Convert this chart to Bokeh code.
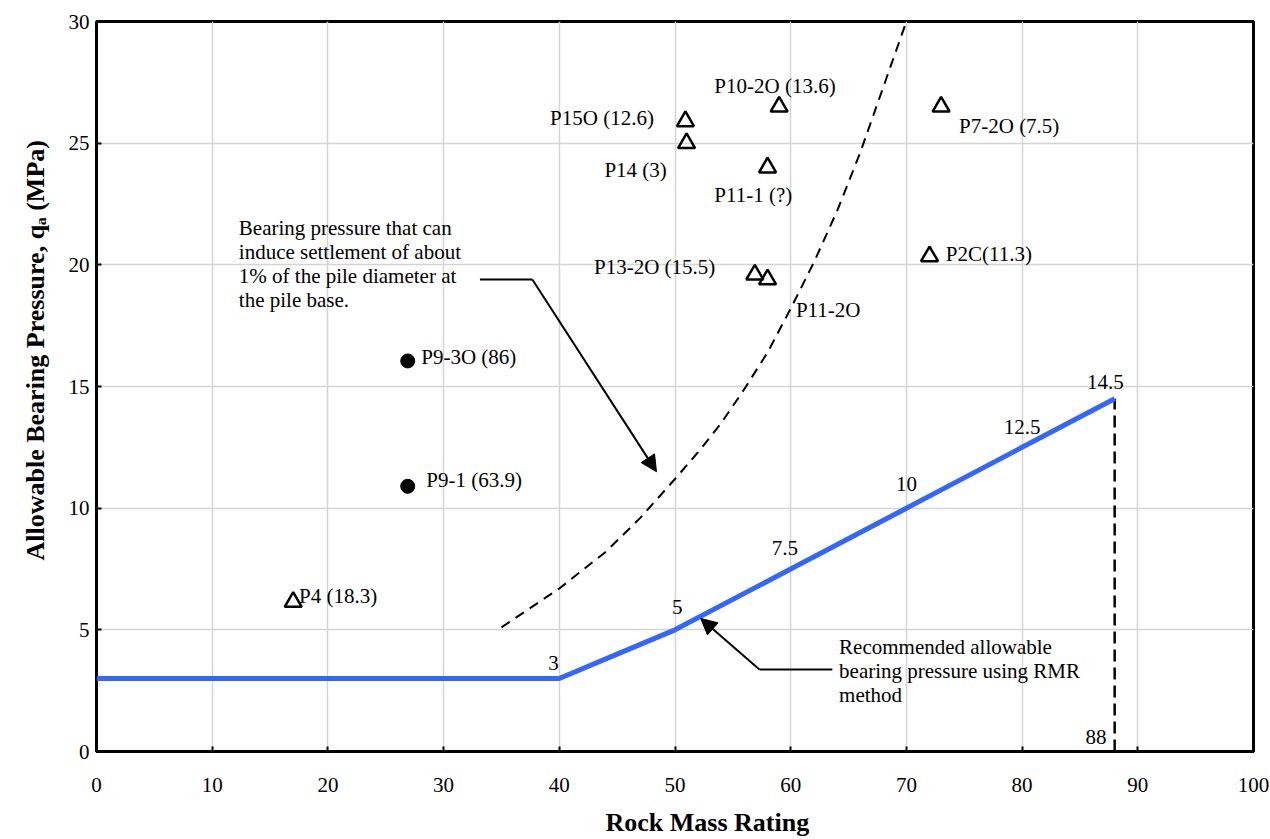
from bokeh.plotting import figure
from bokeh.models import Range1d, Title, Arrow, NormalHead
from bokeh.core.properties import value
from bokeh.embed import file_html
from bokeh.resources import INLINE

FONT = "Liberation Serif"

# ---- data ----
x_ticks = [0, 10, 20, 30, 40, 50, 60, 70, 80, 90, 100]
y_ticks = [0, 5, 10, 15, 20, 25, 30]

# recommended allowable bearing pressure (RMR method)
rec_rmr = [0, 40, 45, 50, 60, 70, 80, 88]
rec_qa = [3, 3, 4.0, 5, 7.5, 10, 12.5, 14.5]
rec_label_text = ["3", "5", "7.5", "10", "12.5", "14.5"]
rec_label_rmr = [39.5, 50.2, 59.5, 70.0, 80.0, 87.2]
rec_label_qa = [3.65, 5.95, 8.35, 11.0, 13.35, 15.2]

# vertical limit at RMR = 88
limit_rmr = [88, 88]
limit_qa = [0, 14.5]
limit_label = ["88"]
limit_label_rmr = [87.3]
limit_label_qa = [0.6]

# settlement curve (1% of pile diameter)
settle_rmr = [35, 40, 44, 47, 50, 52, 54, 56, 58, 60, 62, 64, 66, 68, 70]
settle_qa = [5.1, 6.7, 8.2, 9.6, 11.2, 12.3, 13.5, 14.9, 16.4, 18.2, 20.1, 22.2, 24.6, 27.3, 30.0]

# load test results: open triangles
tri_rmr = [17.0, 50.9, 51.0, 59.0, 58.0, 56.9, 58.0, 73.0, 72.0]
tri_qa = [6.15, 25.9, 25.0, 26.5, 24.0, 19.6, 19.4, 26.5, 20.35]
tri_text = ["P4 (18.3)", "P15O (12.6)", "P14 (3)", "P10-2O (13.6)", "P11-1 (?)",
            "P13-2O (15.5)", "P11-2O", "P7-2O (7.5)", "P2C(11.3)"]
tri_text_rmr = [17.5, 39.2, 43.9, 53.4, 53.4, 43.0, 60.45, 74.55, 73.4]
tri_text_qa = [6.38, 26.04, 23.88, 27.33, 22.85, 19.93, 18.15, 25.69, 20.46]

# load test results: filled circles
circ_rmr = [26.9, 26.9]
circ_qa = [16.05, 10.9]
circ_text = ["P9-3O (86)", "P9-1 (63.9)"]
circ_text_rmr = [28.07, 28.5]
circ_text_qa = [16.23, 11.17]

# annotations
note1_text = ["Bearing pressure that can\ninduce settlement of about\n1% of the pile diameter at\nthe pile base."]
note1_rmr = [12.3]
note1_qa = [20.02]
lead1_rmr = [33.14, 37.67]
lead1_qa = [19.4, 19.4]
arrow1 = dict(x_start=37.67, y_start=19.4, x_end=48.4, y_end=11.5)

note2_text = ["Recommended allowable\nbearing pressure using RMR\nmethod"]
note2_rmr = [64.18]
note2_qa = [3.32]
lead2_rmr = [63.6, 57.3]
lead2_qa = [3.37, 3.37]
arrow2 = dict(x_start=57.3, y_start=3.37, x_end=52.22, y_end=5.47)

# ---- figure ----
p = figure(frame_width=1157, frame_height=730,
           x_range=Range1d(0, 100), y_range=Range1d(0, 30),
           output_backend="svg", toolbar_location=None,
           min_border_left=96, min_border_right=16,
           min_border_top=21, min_border_bottom=88,
           background_fill_color="white", border_fill_color="white")

p.outline_line_color = "black"
p.outline_line_width = 3
p.outline_line_alpha = 1.0

for ax in (p.xaxis, p.yaxis):
    ax.axis_line_color = None
    ax.major_tick_in = 5
    ax.major_tick_out = 0
    ax.major_tick_line_width = 2
    ax.major_tick_line_color = "black"
    ax.minor_tick_line_color = None
    ax.major_label_text_font = FONT
    ax.major_label_text_font_size = "21px"
    ax.major_label_text_color = "black"

p.xaxis.ticker = x_ticks
p.yaxis.ticker = y_ticks
p.xaxis.major_label_standoff = 26
p.yaxis.major_label_standoff = 7

p.grid.grid_line_color = "#d4d4d4"
p.grid.grid_line_width = 1.5

# curves
p.line(settle_rmr, settle_qa, line_color="black", line_width=2, line_dash="10 7")
p.line(limit_rmr, limit_qa, line_color="black", line_width=2.5, line_dash="12 6")
p.line(rec_rmr, rec_qa, line_color="#3366ff", line_width=5)

# points
p.scatter(tri_rmr, tri_qa, marker="triangle", size=17, fill_color=None,
          line_color="black", line_width=2.5)
p.scatter(circ_rmr, circ_qa, marker="circle", size=14, fill_color="black",
          line_color="black")

txt = dict(text_font=value(FONT), text_font_size="21px", text_color="black",
           text_baseline="middle")
p.text(tri_text_rmr, tri_text_qa, text=tri_text, text_align="left", **txt)
p.text(circ_text_rmr, circ_text_qa, text=circ_text, text_align="left", **txt)
p.text(rec_label_rmr, rec_label_qa, text=rec_label_text, text_align="center", **txt)
p.text(limit_label_rmr, limit_label_qa, text=limit_label, text_align="right", **txt)
p.text(note1_rmr, note1_qa, text=note1_text, text_align="left", text_line_height=1.0, **txt)
p.text(note2_rmr, note2_qa, text=note2_text, text_align="left", text_line_height=1.0, **txt)

# leaders
p.line(lead1_rmr, lead1_qa, line_color="black", line_width=2)
p.line(lead2_rmr, lead2_qa, line_color="black", line_width=2)
for a in (arrow1, arrow2):
    p.add_layout(Arrow(end=NormalHead(size=16, fill_color="black", line_color="black"),
                       line_color="black", line_width=2, **a))

# axis titles
xt = Title(text="Rock Mass Rating", align="left", offset=509, standoff=22,
           text_font=FONT, text_font_size="26px", text_font_style="bold",
           text_color="black")
p.add_layout(xt, "below")
yt = Title(text="Allowable Bearing Pressure, q\u2090 (MPa)", align="left", offset=191,
           standoff=32, text_font=FONT, text_font_size="26px", text_font_style="bold",
           text_color="black")
p.add_layout(yt, "left")

open("out.html", "w").write(file_html(p, INLINE))
